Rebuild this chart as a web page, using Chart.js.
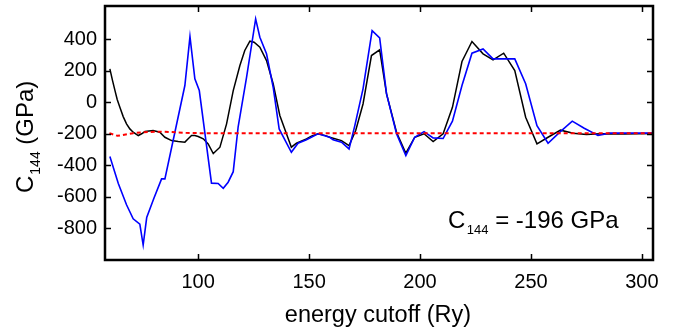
<!DOCTYPE html>
<html>
<head>
<meta charset="utf-8">
<script src="https://cdn.jsdelivr.net/npm/chart.js@4/dist/chart.umd.min.js"></script>
<style>
  html, body { margin: 0; padding: 0; background: #fff; }
  #wrap { width: 688px; height: 333px; position: relative; }
</style>
</head>
<body>
<div id="wrap"><canvas id="grafico"></canvas></div>
<script>
// energy cutoff (Ry) and C144 (GPa)
const negroE = [60.2, 61.4, 62.5, 63.5, 64.7, 66.2, 67.7, 69.2, 70.7, 73, 74.5, 76, 79.7, 82.7, 85, 88, 91, 94, 95.5, 97, 98.5, 100, 102.3, 104.5, 106.8,
  109.8, 112.8, 115.8, 118.8, 121, 123.3, 125.2, 127.8, 130.8, 133.8, 136.8, 142, 144.3, 148.8, 151, 154, 157, 159.3,
  164.6, 168, 171, 174.3, 178.1, 181.8, 184.9, 189.4, 193.6, 197.6, 201.8, 205.9, 210.4, 214.6, 218.9, 223.4, 228.4,
  232.9, 237.7, 242.7, 247.6, 252.7, 257.7, 263.3, 269, 275, 281, 292, 305];
const negroC = [211, 137, 74, 17, -32, -91, -137, -169, -190, -211, -200, -186, -179, -190, -222, -243, -249, -253, -232, -211, -211, -217, -232, -264, -325,
  -285, -137, 74, 233, 328, 387, 380, 349, 264, 117, -84, -285, -260, -232, -215, -200, -210, -222,
  -243, -275, -179, -11, 296, 332, 53, -190, -323, -222, -200, -249, -200, -32, 258, 385, 307,
  269, 311, 201, -95, -264, -222, -177, -196, -205, -200, -202, -198];

const azulE = [60.2, 64, 67.7, 70.7, 73.7, 75.2, 76.8, 80, 83.5, 85, 89.5, 94, 96.3, 98.5, 100.5, 106, 109, 111.3, 113.5, 115.8,
  118, 121.8, 125.9, 127.8, 130.8, 133.8, 136.5, 142, 145, 148.8, 154, 159.3, 160.8, 164.6, 168, 170.6, 174.3, 178.4,
  181.8, 184.9, 189.4, 193.6, 197.6, 201.8, 205.9, 210.4, 214.6, 218.9, 223.4, 228.4, 232.9, 237.7, 242.7, 247.6,
  252.7, 257.7, 263, 268.6, 274, 280.2, 285.4, 295, 305];
const azulC = [-344, -515, -650, -739, -773, -905, -731, -610, -486, -486, -190, 106, 416, 148, 74, -513, -515, -545, -507, -440,
  -158, 158, 528, 412, 307, 95, -169, -317, -260, -238, -200, -222, -238, -253, -296, -148, 85, 454,
  408, 53, -200, -338, -222, -186, -226, -230, -120, 106, 311, 338, 275, 275, 275, 117,
  -148, -260, -190, -120, -165, -211, -196, -196, -196];

const rojoE = [60, 63.6, 66.7, 70.7, 75.2, 84.2, 94.4, 100, 150, 200, 250, 305];
const rojoC = [-196, -213, -206, -196, -190, -186, -194, -196, -196, -196, -196, -196];

const ticksX = [100, 150, 200, 250, 300];
const ticksY = [-800, -600, -400, -200, 0, 200, 400];

function puntos(xs, ys) {
  return xs.map((x, i) => ({ x: x, y: ys[i] }));
}

const marco = {
  id: 'marco',
  afterDraw(chart) {
    const c = chart.ctx;
    const a = chart.chartArea;
    const sx = chart.scales.x, sy = chart.scales.y;
    c.save();
    c.strokeStyle = '#000';
    c.lineWidth = 1.5;
    ticksX.forEach(v => {
      const p = Math.round(sx.getPixelForValue(v)) + 0.5;
      c.beginPath();
      c.moveTo(p, a.bottom); c.lineTo(p, a.bottom - 6);
      c.moveTo(p, a.top); c.lineTo(p, a.top + 6);
      c.stroke();
    });
    ticksY.forEach(v => {
      const p = Math.round(sy.getPixelForValue(v)) + 0.5;
      c.beginPath();
      c.moveTo(a.left, p); c.lineTo(a.left + 6, p);
      c.moveTo(a.right, p); c.lineTo(a.right - 6, p);
      c.stroke();
    });
    c.lineWidth = 2.5;
    c.strokeRect(a.left, a.top, a.right - a.left, a.bottom - a.top);

    // titulos
    c.fillStyle = '#000';
    c.font = '23.5px "Liberation Sans", Arial, sans-serif';
    c.textAlign = 'center';
    c.textBaseline = 'alphabetic';
    c.fillText('energy cutoff (Ry)', 378, 321.5);

    // eje y rotado con subindice
    c.save();
    c.translate(33, 193);
    c.rotate(-Math.PI / 2);
    c.textAlign = 'left';
    let x = 0;
    c.font = '24px "Liberation Sans", Arial, sans-serif';
    c.fillText('C', x, 0); x += c.measureText('C').width + 1;
    c.font = '14px "Liberation Sans", Arial, sans-serif';
    c.fillText('144', x, 7); x += c.measureText('144').width;
    c.font = '24px "Liberation Sans", Arial, sans-serif';
    c.fillText(' (GPa)', x, 0);
    c.restore();

    // anotacion
    c.textAlign = 'left';
    x = 448;
    c.font = '24px "Liberation Sans", Arial, sans-serif';
    c.fillText('C', x, 227.5); x += c.measureText('C').width + 1.5;
    c.font = '13px "Liberation Sans", Arial, sans-serif';
    c.fillText('144', x, 234); x += c.measureText('144').width;
    c.font = '24px "Liberation Sans", Arial, sans-serif';
    c.fillText(' = -196 GPa', x, 227.5);
    c.restore();
  }
};

const ctx = document.getElementById('grafico').getContext('2d');
const grafico = new Chart(ctx, {
  type: 'line',
  data: {
    datasets: [{
      label: 'referencia',
      data: puntos(rojoE, rojoC),
      borderColor: '#ff0000',
      borderWidth: 2,
      borderDash: [4, 3],
      pointRadius: 0,
      order: 0
    }, {
      label: 'azul',
      data: puntos(azulE, azulC),
      borderColor: '#0000ff',
      borderWidth: 1.6,
      pointRadius: 0,
      order: 1
    }, {
      label: 'negro',
      data: puntos(negroE, negroC),
      borderColor: '#000000',
      borderWidth: 1.5,
      pointRadius: 0,
      order: 2
    }]
  },
  options: {
    responsive: true,
    maintainAspectRatio: false,
    animation: false,
    layout: { padding: { left: 0, right: 35, top: 6, bottom: 0 } },
    plugins: { legend: { display: false }, tooltip: { enabled: false } },
    elements: { line: { tension: 0 } },
    scales: {
      x: {
        type: 'linear',
        min: 58,
        max: 305,
        afterBuildTicks: s => { s.ticks = ticksX.map(v => ({ value: v })); },
        afterFit: s => { s.height = 73; s.paddingLeft = 0; s.paddingRight = 0; },
        grid: { display: false, drawTicks: false },
        border: { display: false },
        ticks: { color: '#000', padding: 10, maxRotation: 0, font: { family: '"Liberation Sans", Arial, sans-serif', size: 20 } }
      },
      y: {
        type: 'linear',
        min: -1000,
        max: 610,
        afterBuildTicks: s => { s.ticks = ticksY.map(v => ({ value: v })); },
        afterFit: s => { s.width = 105; s.paddingTop = 0; s.paddingBottom = 0; },
        grid: { display: false, drawTicks: false },
        border: { display: false },
        ticks: { color: '#000', padding: 8, font: { family: '"Liberation Sans", Arial, sans-serif', size: 20 } }
      }
    }
  },
  plugins: [marco]
});
</script>
</body>
</html>
